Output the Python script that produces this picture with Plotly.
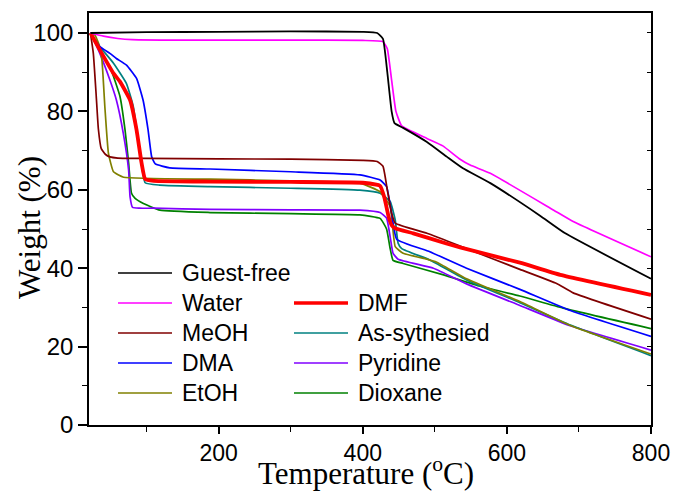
import plotly.graph_objects as go

# ---------------- data ----------------
names = ["Guest-free", "Water", "MeOH", "DMA", "EtOH",
         "DMF", "As-sythesied", "Pyridine", "Dioxane"]
colors = ["#000000", "#ff00ff", "#800000", "#0000ff", "#808000",
          "#ff0000", "#008080", "#8000ff", "#008000"]
widths = [1.8, 1.7, 1.7, 1.7, 1.7, 3.8, 1.7, 1.7, 1.7]

T_guest = [22, 100, 200, 300, 400, 420, 428, 434, 440, 444, 456, 489, 517, 539, 577, 646, 681, 800]
W_guest = [100, 100.2, 100.3, 100.4, 100.3, 100.0, 98.5, 90, 80, 77, 75.8, 72.2, 68.4, 65.5, 61.7, 53.4, 48.9, 37.3]

T_water = [22, 40, 60, 80, 120, 200, 300, 400, 428, 434, 440, 446, 454, 489, 511, 535, 549, 577, 665, 692, 800]
W_water = [100, 99.2, 98.6, 98.3, 98.2, 98.2, 98.2, 98.1, 97.8, 96, 88, 80, 76.3, 73.1, 71.2, 67.8, 66.3, 64.2, 54.8, 51.9, 42.9]

T_meoh = [22, 26, 30, 33, 37, 43, 49, 60, 100, 200, 300, 400, 420, 428, 434, 440, 445, 489, 544, 618, 669, 692, 800]
W_meoh = [100, 94.8, 84, 75.5, 70.5, 69, 68.4, 68.1, 68.0, 67.9, 67.8, 67.5, 67.2, 66, 60, 54, 51.5, 48.9, 45.0, 39.7, 36.1, 33.7, 27.0]

T_dma = [22, 35, 49, 58, 72, 86, 95, 102, 107, 112, 132, 188, 300, 396, 424, 433, 440, 447, 493, 544, 618, 688, 800]
W_dma = [100, 96.5, 94.8, 93.5, 91.8, 88.4, 82.9, 75.3, 68.4, 66.6, 65.6, 65.3, 64.6, 63.8, 62.5, 60.8, 54, 47.4, 44.2, 40.0, 34.6, 29.2, 22.6]

T_etoh = [22, 28, 34, 38, 42, 47, 54, 68, 188, 300, 396, 424, 438, 445, 456, 489, 502, 544, 618, 688, 800]
W_etoh = [100, 99.5, 97, 93, 81.2, 69.3, 64.6, 63.2, 62.7, 62.3, 61.7, 59.5, 55.7, 45.5, 43.8, 42.3, 41.6, 37.3, 31.5, 25.4, 18.1]

T_dmf = [22, 35, 54, 63, 77, 86, 93, 98, 110, 188, 300, 400, 424, 430, 436, 440, 445, 470, 516, 535, 618, 674, 800]
W_dmf = [100, 95.7, 89.7, 87.6, 82.9, 75.3, 66.8, 62.7, 62.3, 62.1, 62.0, 61.8, 61.0, 58, 53, 51, 50.2, 48.9, 46.3, 45.3, 41.4, 38.3, 33.2]

T_as = [22, 35, 54, 72, 81.5, 91, 98, 118, 188, 300, 396, 424, 438, 445, 449, 454, 493, 544, 618, 688, 800]
W_as = [100, 96.5, 92.3, 87.1, 81.2, 69.3, 61.8, 61.2, 60.8, 60.4, 59.9, 59.1, 57, 52.3, 46.4, 45.0, 42.1, 37.0, 31.2, 25.5, 17.7]

T_pyr = [22, 35, 49, 58, 67.6, 75, 77, 80.5, 90, 109, 188, 300, 396, 424, 433, 438, 442, 449, 498, 544, 618, 688, 800]
W_pyr = [100, 94.8, 88, 82.9, 74.4, 65, 58.2, 55.5, 55.3, 55.3, 55.0, 54.9, 54.8, 54.2, 52.8, 48, 43.8, 42.3, 40.0, 36.0, 30.5, 25.3, 19.1]

T_diox = [22, 35, 49, 63, 70, 75, 79, 84, 95.5, 118.5, 188, 300, 396, 424, 433, 438, 442, 456, 512, 563, 618, 678, 800]
W_diox = [100, 95.7, 91.4, 83.8, 75.3, 66.8, 59.1, 57.8, 56.5, 54.8, 54.2, 53.9, 53.6, 52.7, 50, 45, 42, 41.2, 38.3, 35.4, 32.9, 29.8, 24.6]

series_T = [T_guest, T_water, T_meoh, T_dma, T_etoh, T_dmf, T_as, T_pyr, T_diox]
series_W = [W_guest, W_water, W_meoh, W_dma, W_etoh, W_dmf, W_as, W_pyr, W_diox]

x_range = [20, 800]
y_range = [0, 105.1]
x_ticks = [200, 400, 600, 800]
y_ticks = [0, 20, 40, 60, 80, 100]

# ---------------- figure ----------------
fig = go.Figure()
draw_order = [8, 7, 6, 4, 3, 2, 5, 1, 0]
for i in draw_order:
    fig.add_trace(go.Scatter(
        x=series_T[i], y=series_W[i], mode="lines", name=names[i],
        line=dict(color=colors[i], width=widths[i], shape="spline", smoothing=0.4),
        showlegend=False))

# invisible trace to anchor the right-hand axis
fig.add_trace(go.Scatter(x=[None], y=[None], yaxis="y2", showlegend=False, hoverinfo="skip"))

L, R, TOP, B = 89, 26, 13, 66
W_fig, H_fig = 677, 491
pw, ph = W_fig - L - R, H_fig - TOP - B

def px2paper(px, py):
    return (px - L) / pw, (H_fig - B - py) / ph

# manual two-column legend
legend_cols = [(118, 172, 180, [0, 1, 2, 3, 4], 0),
               (294, 348, 356, [5, 6, 7, 8], 1)]
row_y = [273, 303, 333, 363, 393]
shapes = []
annotations = []
for x0, x1, xt, idxs, start in legend_cols:
    for k, i in enumerate(idxs):
        py = row_y[start + k]
        a0, b0 = px2paper(x0, py)
        a1, _ = px2paper(x1, py)
        at, _ = px2paper(xt, py)
        shapes.append(dict(type="line", xref="paper", yref="paper",
                           x0=a0, x1=a1, y0=b0, y1=b0,
                           line=dict(color=colors[i], width=widths[i] * 0.9)))
        annotations.append(dict(text=names[i], xref="paper", yref="paper",
                                x=at, y=b0, xanchor="left", yanchor="middle",
                                showarrow=False,
                                font=dict(family="Liberation Sans, Arial", size=23, color="#000")))

tx, ty = px2paper(366, 471)
annotations.append(dict(text="Temperature (<sup>o</sup>C)", xref="paper", yref="paper",
                        x=tx, y=ty, xanchor="center", yanchor="middle", showarrow=False,
                        font=dict(family="Liberation Serif, Times New Roman", size=31, color="#000")))
yx, yy = px2paper(29, 228)
annotations.append(dict(text="Weight (%)", xref="paper", yref="paper", textangle=-90,
                        x=yx, y=yy, xanchor="center", yanchor="middle", showarrow=False,
                        font=dict(family="Liberation Serif, Times New Roman", size=31, color="#000")))

fig.update_layout(
    width=W_fig, height=H_fig,
    margin=dict(l=L, r=R, t=TOP, b=B, pad=0, autoexpand=False),
    paper_bgcolor="white", plot_bgcolor="white",
    shapes=shapes, annotations=annotations,
    xaxis=dict(range=x_range, tickvals=x_ticks, ticks="outside", ticklen=7, tickwidth=1.5,
               tickcolor="#000", showgrid=False, zeroline=False, showline=True,
               linecolor="#000", linewidth=1.6, mirror=True, automargin=False,
               tickfont=dict(family="Liberation Sans, Arial", size=23, color="#000"),
               minor=dict(dtick=100, tick0=0, ticks="outside", ticklen=5, tickwidth=1.2,
                          tickcolor="#000", showgrid=False)),
    yaxis=dict(range=y_range, tickvals=y_ticks, ticks="outside", ticklen=9, tickwidth=1.5,
               tickcolor="#000", showgrid=False, zeroline=False, showline=True,
               linecolor="#000", linewidth=1.6, mirror=True, automargin=False,
               tickfont=dict(family="Liberation Sans, Arial", size=24, color="#000"),
               minor=dict(dtick=10, tick0=0, ticks="outside", ticklen=5, tickwidth=1.2,
                          tickcolor="#000", showgrid=False)),
    yaxis2=dict(range=y_range, overlaying="y", side="right", dtick=10, tick0=0,
                ticks="inside", ticklen=4, tickwidth=1.2, tickcolor="#000", automargin=False,
                showticklabels=False, showgrid=False, zeroline=False, showline=False),
)

fig.write_html("out.html")
